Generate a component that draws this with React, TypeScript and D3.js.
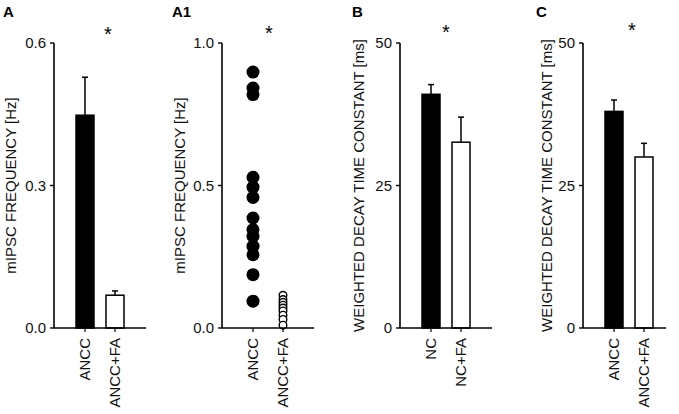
import React from "react";
import * as d3 from "d3";

// ---- Data ----
const panelACategories = ["ANCC", "ANCC+FA"];
const panelAMeans = [0.448, 0.069];
const panelAErrors = [0.08, 0.009];
const panelATicks = [0, 0.3, 0.6];

const panelA1Categories = ["ANCC", "ANCC+FA"];
const panelA1Ancc = [0.898, 0.842, 0.819, 0.529, 0.494, 0.458, 0.386, 0.345, 0.322, 0.287, 0.257, 0.187, 0.094];
const panelA1AnccFa = [0.115, 0.1, 0.09, 0.08, 0.07, 0.06, 0.045, 0.03, 0.01];
const panelA1Ticks = [0, 0.5, 1.0];

const panelBCategories = ["NC", "NC+FA"];
const panelBMeans = [41.0, 32.6];
const panelBErrors = [1.7, 4.4];
const panelBTicks = [0, 25, 50];

const panelCCategories = ["ANCC", "ANCC+FA"];
const panelCMeans = [38.0, 30.0];
const panelCErrors = [2.0, 2.4];
const panelCTicks = [0, 25, 50];

const FONT = "Arial, 'Liberation Sans', Helvetica, sans-serif";
const TOP = 43;
const BOTTOM = 328;

type AxisProps = {
  axisX: number;
  xEnd: number;
  y: d3.ScaleLinear<number, number>;
  x: d3.ScalePoint<string>;
  ticks: number[];
  fmt: (v: number) => string;
  categories: string[];
  yLabel: string;
  yLabelX: number;
  letter: string;
  letterX: number;
  starX: number;
  starY: number;
};

function Axes(p: AxisProps) {
  const mid = (TOP + BOTTOM) / 2;
  return (
    <g fontFamily={FONT}>
      <line x1={p.axisX} x2={p.axisX} y1={TOP} y2={BOTTOM} stroke="#000" strokeWidth={1.6} />
      <line x1={p.axisX} x2={p.xEnd} y1={BOTTOM} y2={BOTTOM} stroke="#000" strokeWidth={1.6} />
      {p.ticks.map((t) => (
        <g key={t}>
          <line x1={p.axisX - 4} x2={p.axisX} y1={p.y(t)} y2={p.y(t)} stroke="#000" strokeWidth={1.4} />
          <text x={p.axisX - 8} y={p.y(t)} dy="0.36em" textAnchor="end" fontSize={15} fill="#111">
            {p.fmt(t)}
          </text>
        </g>
      ))}
      {p.categories.map((c) => (
        <g key={c}>
          <line x1={p.x(c)!} x2={p.x(c)!} y1={BOTTOM} y2={BOTTOM + 4} stroke="#000" strokeWidth={1.2} />
          <text
            transform={`translate(${p.x(c)! + 5},${BOTTOM + 10}) rotate(-90)`}
            textAnchor="end"
            fontSize={15}
            fill="#111"
          >
            {c}
          </text>
        </g>
      ))}
      <text
        transform={`translate(${p.yLabelX},${mid}) rotate(-90)`}
        textAnchor="middle"
        fontSize={15}
        fill="#111"
      >
        {p.yLabel}
      </text>
      <text x={p.letterX} y={16.5} fontSize={15} fontWeight="bold" fill="#000">
        {p.letter}
      </text>
      <text x={p.starX} y={p.starY} textAnchor="middle" fontSize={20} fill="#000">
        *
      </text>
    </g>
  );
}

type BarPanelProps = {
  axisX: number;
  xEnd: number;
  categories: string[];
  means: number[];
  errors: number[];
  ticks: number[];
  fmt: (v: number) => string;
  yLabel: string;
  yLabelX: number;
  letter: string;
  letterX: number;
  starX: number;
  starY: number;
};

function BarPanel(p: BarPanelProps) {
  const y = d3.scaleLinear().domain([p.ticks[0], p.ticks[p.ticks.length - 1]]).range([BOTTOM, TOP]);
  const x = d3.scalePoint<string>().domain(p.categories).range([p.axisX + 31, p.axisX + 61]);
  const bw = 18;
  return (
    <g>
      {p.categories.map((c, i) => {
        const cx = x(c)!;
        const top = y(p.means[i]);
        const et = y(p.means[i] + p.errors[i]);
        return (
          <g key={c}>
            <line x1={cx} x2={cx} y1={top} y2={et} stroke="#000" strokeWidth={1.5} />
            <line x1={cx - 3} x2={cx + 3} y1={et} y2={et} stroke="#000" strokeWidth={1.5} />
            <rect
              x={cx - bw / 2}
              y={top}
              width={bw}
              height={BOTTOM - top}
              fill={i === 0 ? "#000" : "#fff"}
              stroke="#000"
              strokeWidth={1.5}
            />
          </g>
        );
      })}
      <Axes
        axisX={p.axisX}
        xEnd={p.xEnd}
        y={y}
        x={x}
        ticks={p.ticks}
        fmt={p.fmt}
        categories={p.categories}
        yLabel={p.yLabel}
        yLabelX={p.yLabelX}
        letter={p.letter}
        letterX={p.letterX}
        starX={p.starX}
        starY={p.starY}
      />
    </g>
  );
}

function ScatterPanel() {
  const axisX = 222;
  const y = d3.scaleLinear().domain([0, 1]).range([BOTTOM, TOP]);
  const x = d3.scalePoint<string>().domain(panelA1Categories).range([axisX + 31, axisX + 61]);
  return (
    <g>
      {panelA1Ancc.map((v, i) => (
        <circle key={"a" + i} cx={x(panelA1Categories[0])!} cy={y(v)} r={6.5} fill="#000" />
      ))}
      {panelA1AnccFa.map((v, i) => (
        <circle
          key={"b" + i}
          cx={x(panelA1Categories[1])!}
          cy={y(v)}
          r={3.8}
          fill="#fff"
          stroke="#000"
          strokeWidth={1.4}
        />
      ))}
      <Axes
        axisX={axisX}
        xEnd={314}
        y={y}
        x={x}
        ticks={panelA1Ticks}
        fmt={(v) => d3.format(".1f")(v)}
        categories={panelA1Categories}
        yLabel="mIPSC FREQUENCY [Hz]"
        yLabelX={185}
        letter="A1"
        letterX={172}
        starX={269}
        starY={39.5}
      />
    </g>
  );
}

export default function App() {
  return (
    <svg
      width={679}
      height={414}
      style={{ position: "absolute", left: 0, top: 0, background: "#fff" }}
    >
      <rect width={679} height={414} fill="#fff" />
      <BarPanel
        axisX={54}
        xEnd={146}
        categories={panelACategories}
        means={panelAMeans}
        errors={panelAErrors}
        ticks={panelATicks}
        fmt={(v) => d3.format(".1f")(v)}
        yLabel="mIPSC FREQUENCY [Hz]"
        yLabelX={16}
        letter="A"
        letterX={3}
        starX={108}
        starY={40.5}
      />
      <ScatterPanel />
      <BarPanel
        axisX={400}
        xEnd={492}
        categories={panelBCategories}
        means={panelBMeans}
        errors={panelBErrors}
        ticks={panelBTicks}
        fmt={(v) => d3.format("d")(v)}
        yLabel="WEIGHTED DECAY TIME CONSTANT [ms]"
        yLabelX={364}
        letter="B"
        letterX={352}
        starX={446}
        starY={38.5}
      />
      <BarPanel
        axisX={583}
        xEnd={666}
        categories={panelCCategories}
        means={panelCMeans}
        errors={panelCErrors}
        ticks={panelCTicks}
        fmt={(v) => d3.format("d")(v)}
        yLabel="WEIGHTED DECAY TIME CONSTANT [ms]"
        yLabelX={552}
        letter="C"
        letterX={536}
        starX={632}
        starY={36.5}
      />
    </svg>
  );
}
